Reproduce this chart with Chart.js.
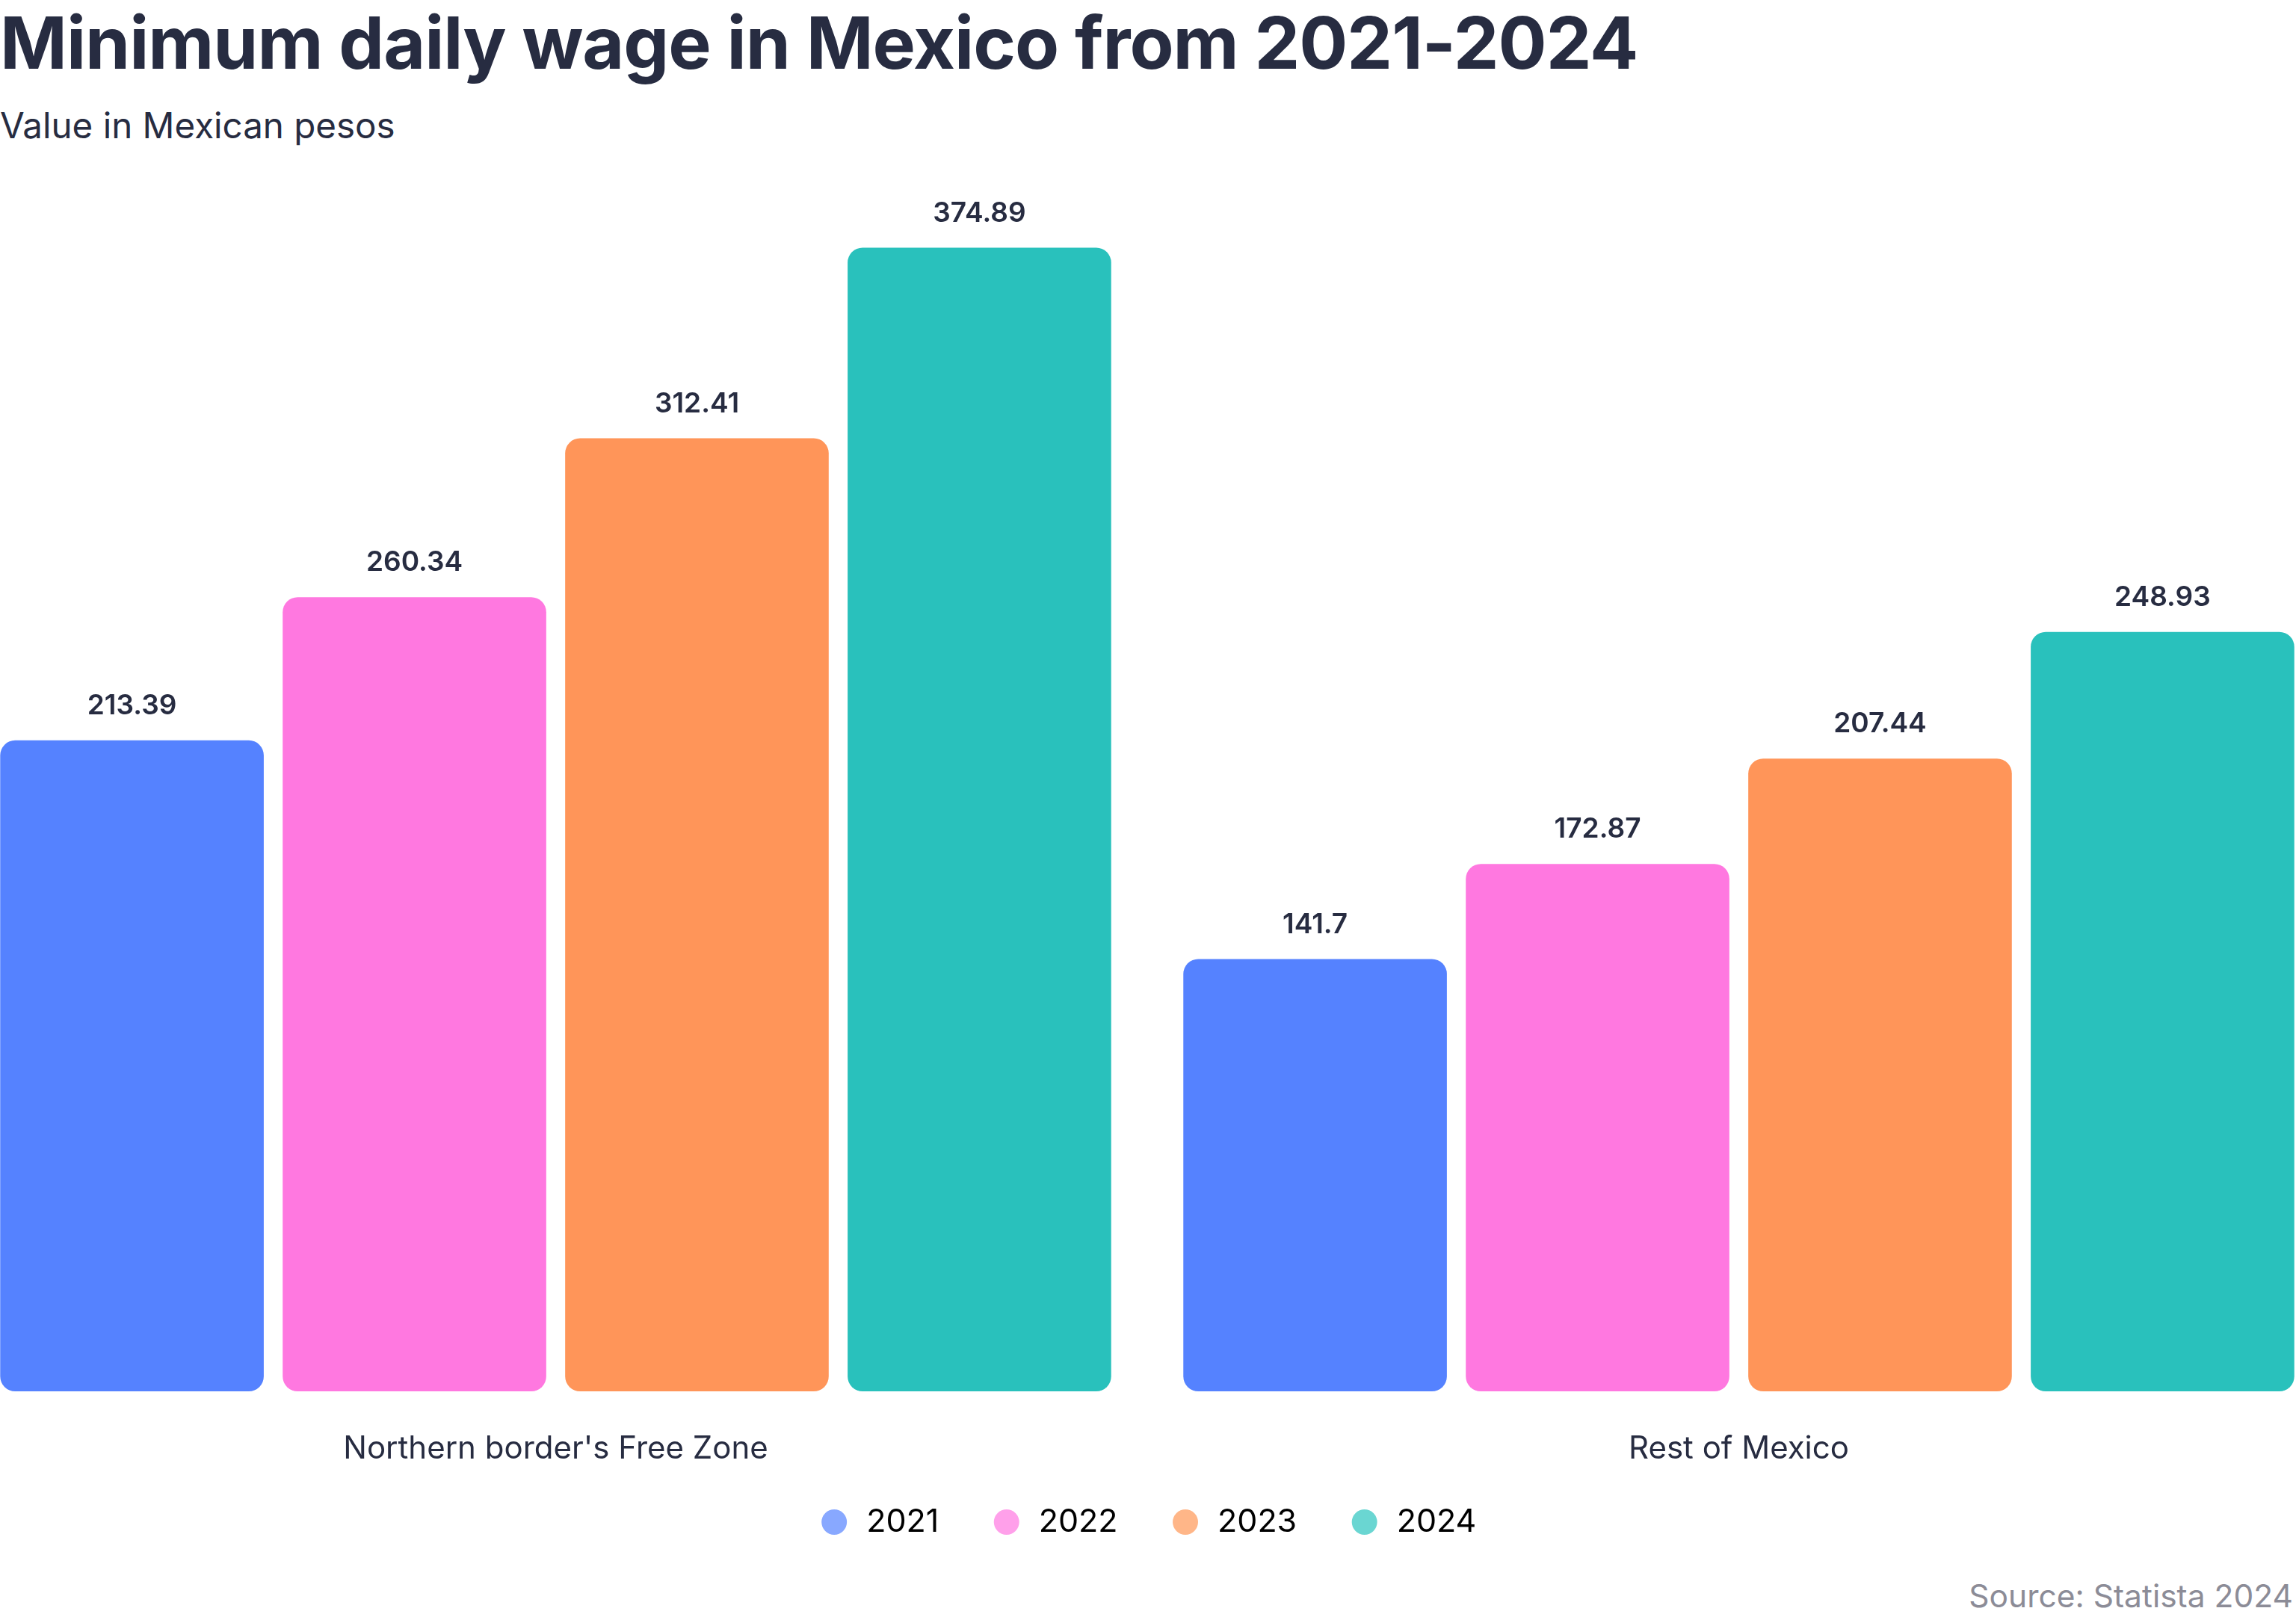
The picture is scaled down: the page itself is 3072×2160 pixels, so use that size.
<!DOCTYPE html>
<html>
<head>
<meta charset="utf-8">
<script src="https://cdn.jsdelivr.net/npm/chart.js@4"></script>
<style>
  html, body { margin: 0; padding: 0; background: #ffffff; overflow: hidden; }
  body { width: 3072px; height: 2160px; position: relative; font-family: Inter, "Noto Sans", sans-serif; }
  #title { position: absolute; left: 0; top: 0px; font-size: 96.5px; font-weight: 700; color: #272c41; white-space: nowrap; line-height: 1.2; letter-spacing: -1px; }
  #subtitle { position: absolute; left: 0; top: 139px; font-size: 47.5px; font-weight: 400; color: #272c41; white-space: nowrap; line-height: 1.2; }
  #source { position: absolute; right: 4px; top: 2110px; font-size: 42.5px; font-weight: 400; color: #8c8c97; white-space: nowrap; line-height: 1.2; }
  #wrap { position: absolute; left: -48px; top: 0; width: 3166px; height: 2160px; }
</style>
</head>
<body>
<div id="title">Minimum daily wage in Mexico from 2021-2024</div>
<div id="subtitle">Value in Mexican pesos</div>
<div id="source">Source: Statista 2024</div>
<div id="wrap"><canvas id="c"></canvas></div>
<script>
const categories = ["Northern border's Free Zone", "Rest of Mexico"];
const seriesNames = ["2021", "2022", "2023", "2024"];
const values2021 = [213.39, 141.7];
const values2022 = [260.34, 172.87];
const values2023 = [312.41, 207.44];
const values2024 = [374.89, 248.93];
const barColors = ["#5582ff", "#ff78e0", "#ff9559", "#29c1bc"];
const legendColors = ["#88a8ff", "#ffa0ea", "#ffb688", "#6ad6d2"];

const seriesValues = [values2021, values2022, values2023, values2024];

const valueLabels = {
  id: 'valueLabels',
  afterDatasetsDraw(chart) {
    const ctx = chart.ctx;
    ctx.save();
    ctx.font = '600 37px Inter, "Noto Sans", sans-serif';
    ctx.fillStyle = '#272c41';
    ctx.textAlign = 'center';
    ctx.textBaseline = 'middle';
    chart.data.datasets.forEach((ds, di) => {
      const meta = chart.getDatasetMeta(di);
      meta.data.forEach((el, i) => {
        ctx.fillText(String(ds.data[i]), el.x, el.y - 46);
      });
    });
    ctx.restore();
  }
};

// pull the legend row a little closer to the category labels
const legendNudge = {
  id: 'legendNudge',
  afterLayout(chart) {
    if (chart.legend) {
      chart.legend.top -= 25.5;
      chart.legend.bottom -= 25.5;
    }
  }
};

new Chart(document.getElementById('c'), {
  type: 'bar',
  data: {
    labels: categories,
    datasets: seriesNames.map((name, i) => ({
      label: name,
      data: seriesValues[i],
      backgroundColor: barColors[i],
      borderRadius: 20,
      borderSkipped: false,
      barPercentage: 0.933,
      categoryPercentage: 0.955
    }))
  },
  options: {
    responsive: true,
    maintainAspectRatio: false,
    animation: false,
    devicePixelRatio: 1,
    layout: { padding: { top: 229, left: 0, right: 0, bottom: 66 } },
    scales: {
      x: {
        grid: { display: false, drawTicks: false },
        border: { display: false },
        ticks: { padding: 52, color: '#272c41', font: { family: 'Inter', size: 42 } },
        afterFit(scale) { scale.height = 110; }
      },
      y: {
        display: false,
        min: 0,
        max: 400
      }
    },
    plugins: {
      legend: {
        position: 'bottom',
        labels: {
          usePointStyle: true,
          boxWidth: 45,
          boxHeight: 24,
          padding: 69,
          color: '#272c41',
          font: { family: 'Inter', size: 43 },
          generateLabels(chart) {
            return chart.data.datasets.map((ds, i) => ({
              text: ds.label,
              fillStyle: legendColors[i],
              strokeStyle: legendColors[i],
              lineWidth: 0,
              pointStyle: 'circle',
              datasetIndex: i,
              hidden: false
            }));
          }
        }
      },
      tooltip: { enabled: false },
      title: { display: false }
    }
  },
  plugins: [valueLabels, legendNudge]
});
</script>
</body>
</html>
